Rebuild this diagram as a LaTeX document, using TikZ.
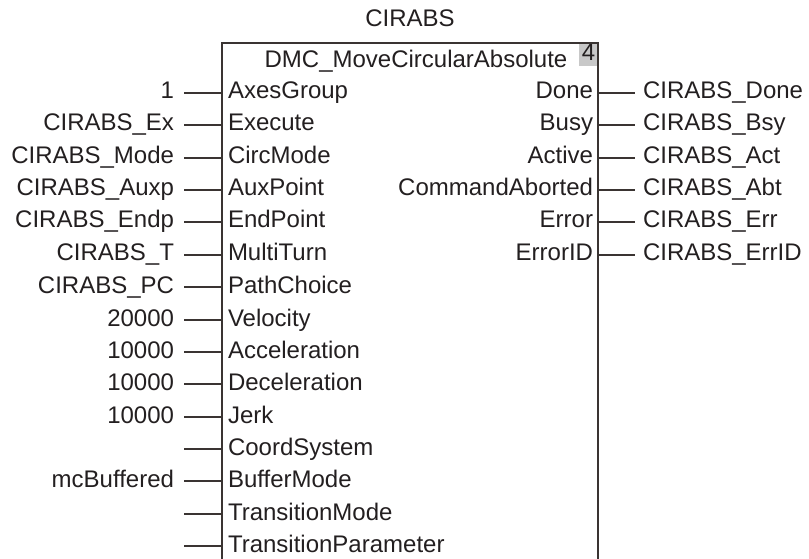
\documentclass[tikz,border=0pt]{standalone}
\usepackage{fontspec}
\setmainfont{Liberation Sans}
\usetikzlibrary{positioning}

\definecolor{ln}{HTML}{3A3432}
\definecolor{txt}{HTML}{231F20}
\definecolor{numgray}{HTML}{C8C8C8}

\begin{document}
\begin{tikzpicture}[x=0.75pt, y=-0.75pt,
    every node/.style={font=\fontsize{18}{20}\selectfont, text=txt, inner ysep=0pt, outer sep=0pt, text height=13pt, text depth=4pt},
    pinL/.style={anchor=west, inner xsep=4.5pt},
    pinR/.style={anchor=east, inner xsep=3.75pt},
    varL/.style={inner xsep=7.5pt},
    varR/.style={inner xsep=6pt},
    wire/.style={draw=ln, line width=0.9pt}]
    \useasboundingbox (0,0) rectangle (809,559);

    % Instance name and function block type
    \node (inst) at (410,21) {CIRABS};
    \node (fb) at (416,62) {DMC\_MoveCircularAbsolute};
    \node[fill=numgray, anchor=north east, inner xsep=2pt, minimum width=12.75pt, minimum height=17.25pt] (num) at (598,43.5) {4};

    % Block outline (runs past the bottom edge)
    \draw[wire] (222,559) |- (598,43) -- (598,559);

    % Input pins
    \node[pinL] (p1) at (222,93) {AxesGroup};
    \node[pinL] (p2) at (222,125) {Execute};
    \node[pinL] (p3) at (222,158) {CircMode};
    \node[pinL] (p4) at (222,190) {AuxPoint};
    \node[pinL] (p5) at (222,222) {EndPoint};
    \node[pinL] (p6) at (222,255) {MultiTurn};
    \node[pinL] (p7) at (222,287) {PathChoice};
    \node[pinL] (p8) at (222,320) {Velocity};
    \node[pinL] (p9) at (222,352) {Acceleration};
    \node[pinL] (p10) at (222,384) {Deceleration};
    \node[pinL] (p11) at (222,417) {Jerk};
    \node[pinL] (p12) at (222,449) {CoordSystem};
    \node[pinL] (p13) at (222,481) {BufferMode};
    \node[pinL] (p14) at (222,514) {TransitionMode};
    \node[pinL] (p15) at (222,546) {TransitionParameter};

    % Output pins
    \node[pinR] (q1) at (598,93) {Done};
    \node[pinR] (q2) at (598,125) {Busy};
    \node[pinR] (q3) at (598,158) {Active};
    \node[pinR] (q4) at (598,190) {CommandAborted};
    \node[pinR] (q5) at (598,222) {Error};
    \node[pinR] (q6) at (598,255) {ErrorID};

    % Input variables
    \node[varL, left=28.5pt of p1] (v1) {1};
    \node[varL, left=28.5pt of p2] (v2) {CIRABS\_Ex};
    \node[varL, left=28.5pt of p3] (v3) {CIRABS\_Mode};
    \node[varL, left=28.5pt of p4] (v4) {CIRABS\_Auxp};
    \node[varL, left=28.5pt of p5] (v5) {CIRABS\_Endp};
    \node[varL, left=28.5pt of p6] (v6) {CIRABS\_T};
    \node[varL, left=28.5pt of p7] (v7) {CIRABS\_PC};
    \node[varL, left=28.5pt of p8] (v8) {20000};
    \node[varL, left=28.5pt of p9] (v9) {10000};
    \node[varL, left=28.5pt of p10] (v10) {10000};
    \node[varL, left=28.5pt of p11] (v11) {10000};
    \coordinate (v12) at (184,449);
    \node[varL, left=28.5pt of p13] (v13) {mcBuffered};
    \coordinate (v14) at (184,514);
    \coordinate (v15) at (184,546);

    % Output variables
    \node[varR, right=27.75pt of q1] (o1) {CIRABS\_Done};
    \node[varR, right=27.75pt of q2] (o2) {CIRABS\_Bsy};
    \node[varR, right=27.75pt of q3] (o3) {CIRABS\_Act};
    \node[varR, right=27.75pt of q4] (o4) {CIRABS\_Abt};
    \node[varR, right=27.75pt of q5] (o5) {CIRABS\_Err};
    \node[varR, right=27.75pt of q6] (o6) {CIRABS\_ErrID};

    % Wires
    \draw[wire] (v1.east) -- (p1.west);
    \draw[wire] (v2.east) -- (p2.west);
    \draw[wire] (v3.east) -- (p3.west);
    \draw[wire] (v4.east) -- (p4.west);
    \draw[wire] (v5.east) -- (p5.west);
    \draw[wire] (v6.east) -- (p6.west);
    \draw[wire] (v7.east) -- (p7.west);
    \draw[wire] (v8.east) -- (p8.west);
    \draw[wire] (v9.east) -- (p9.west);
    \draw[wire] (v10.east) -- (p10.west);
    \draw[wire] (v11.east) -- (p11.west);
    \draw[wire] (v12) -- (p12.west);
    \draw[wire] (v13.east) -- (p13.west);
    \draw[wire] (v14) -- (p14.west);
    \draw[wire] (v15) -- (p15.west);
    \draw[wire] (q1.east) -- (o1.west);
    \draw[wire] (q2.east) -- (o2.west);
    \draw[wire] (q3.east) -- (o3.west);
    \draw[wire] (q4.east) -- (o4.west);
    \draw[wire] (q5.east) -- (o5.west);
    \draw[wire] (q6.east) -- (o6.west);
\end{tikzpicture}
\end{document}
